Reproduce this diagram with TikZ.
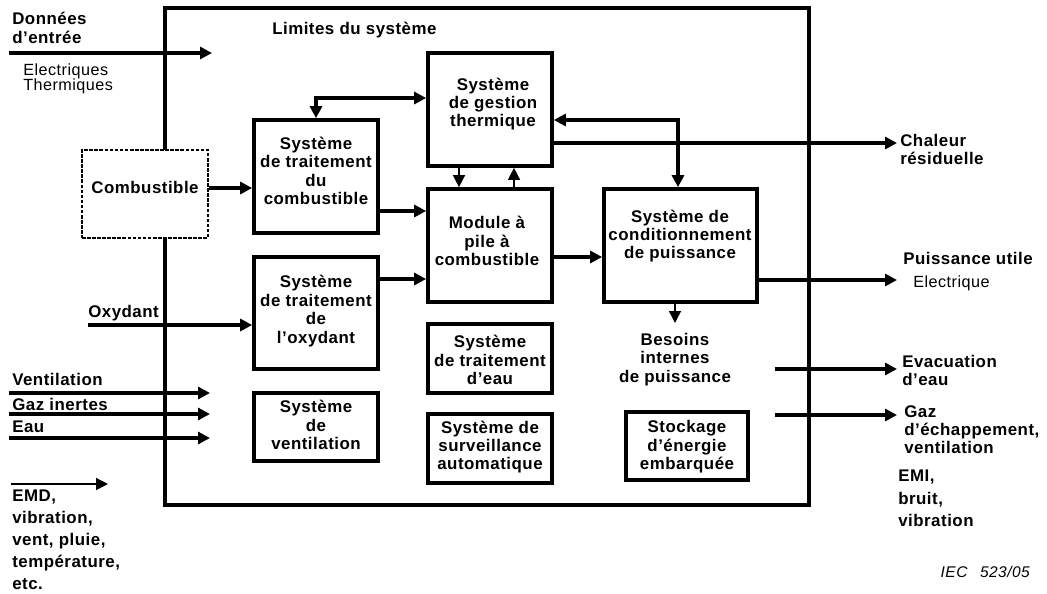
\documentclass[tikz,border=0pt]{standalone}
\usepackage{fontspec}
\setmainfont{Liberation Sans}[LetterSpace=3]
\usetikzlibrary{arrows.meta}

\tikzset{
	box/.style={draw, line width=2.6pt, fill=white, minimum width=3.1cm, inner sep=0pt},
	bigbox/.style={box, minimum height=2.825cm},
	smallbox/.style={box, minimum height=1.725cm},
	txt/.style={font=\bfseries\fontsize{12}{13.1}\selectfont, align=center, inner sep=0pt},
	lbl/.style={font=\bfseries\fontsize{12}{13.1}\selectfont, align=left, inner sep=0pt, anchor=north west},
	widelbl/.style={lbl, font=\bfseries\fontsize{12}{15.6}\selectfont},
	fine/.style={font=\fontsize{11.5}{10.8}\selectfont, align=left, inner sep=0pt, anchor=north west},
	arr/.style={line width=2.2pt, -{Triangle[length=8.5pt,width=8.5pt]}},
	dblarr/.style={line width=2.2pt, {Triangle[length=8.5pt,width=8.5pt]}-{Triangle[length=8.5pt,width=8.5pt]}},
	thinarr/.style={line width=1pt, -{Triangle[length=8.5pt,width=8.5pt]}},
}

\begin{document}
\begin{tikzpicture}[x=0.025cm, y=-0.025cm]
	\useasboundingbox (0,0) rectangle (1047,593);
	% Systemgrenze
	\draw[line width=2.6pt] (165,8) rectangle (809,505);
	\node[lbl] (limites) at (272,22) {Limites du système};

	% Kaesten
	\node[box, densely dotted, line width=1.2pt, minimum width=3.15cm, minimum height=2.2cm] (comb) at (145,194) {};
	\node[txt] (combt) at (145,187) {Combustible};
	\node[bigbox] (tcomb) at (316,176.5) {};
	\node[txt] (tcombt) at (316,171) {Système\\de traitement\\du\\combustible};
	\node[bigbox] (gest) at (490,109.5) {};
	\node[txt] (gestt) at (493,104) {Système\\de gestion\\thermique};
	\node[bigbox] (module) at (490,245.5) {};
	\node[txt] (modulet) at (487,241) {Module à\\pile à\\combustible};
	\node[bigbox, minimum width=3.825cm] (cond) at (680.5,245.5) {};
	\node[txt] (condt) at (680,236) {Système de\\conditionnement\\de puissance};
	\node[bigbox, minimum height=2.8cm] (toxy) at (316,313) {};
	\node[txt] (toxyt) at (316,311) {Système\\de traitement\\de\\l’oxydant};
	\node[box, minimum height=1.7cm] (vent) at (316,427) {};
	\node[txt] (ventt) at (316,425) {Système\\de\\ventilation};
	\node[smallbox] (eau) at (490,358.5) {};
	\node[txt] (eaut) at (490,360) {Système\\de traitement\\d’eau};
	\node[smallbox] (surv) at (490,448.5) {};
	\node[txt] (survt) at (490,447) {Système de\\surveillance\\automatique};
	\node[box, minimum width=3.05cm, minimum height=1.7cm] (stock) at (687,446) {};
	\node[txt] (stockt) at (687,447) {Stockage\\d’énergie\\embarquée};
	\node[txt, anchor=north] (besoins) at (675,333) {Besoins\\internes\\de puissance};

	% Verbindungen innen
	\draw[arr] (comb.east |- 0,188) -- (tcomb.west |- 0,188);
	\draw[dblarr] (tcomb.north) |- (gest.west |- 0,98);
	\draw[arr] (tcomb.east |- 0,211) -- (module.west |- 0,211);
	\draw[arr] (toxy.east |- 0,279) -- (module.west |- 0,279);
	\draw[thinarr] (gest.south -| 459,0) -- (module.north -| 459,0);
	\draw[thinarr] (module.north -| 514,0) -- (gest.south -| 514,0);
	\draw[arr] (module.east |- 0,257) -- (cond.west |- 0,257);
	\draw[dblarr] (gest.east |- 0,120) -| (cond.north -| 678,0);
	\coordinate (bes) at (675,323);
	\draw[thinarr] (cond.south -| bes) -- (bes);

	% Eingaenge links
	\coordinate (din) at (9,53);
	\coordinate (dout) at (212,53);
	\draw[arr] (din) -- (dout);
	\node[lbl] (donnees) at (12,12) {Données\\d’entrée};
	\node[fine] (elec) at (23,63) {Electriques\\Thermiques};
	\coordinate (oxin) at (88,325);
	\draw[arr] (oxin) -- (toxy.west |- oxin);
	\node[lbl] (oxy) at (88,305) {Oxydant};
	\foreach \y/\t/\name/\txt in {393/373/vl/Ventilation, 414/398/gl/Gaz inertes, 438/421/el/Eau} {
		\coordinate (\name a) at (9,\y);
		\coordinate (\name b) at (210,\y);
		\draw[arr] (\name a) -- (\name b);
		\node[lbl] (\name) at (12,\t) {\txt};
	}
	\coordinate (emda) at (11,484);
	\coordinate (emdb) at (108,484);
	\draw[thinarr] (emda) -- (emdb);
	\node[widelbl] (emd) at (12,490) {EMD,\\vibration,\\vent, pluie,\\température,\\etc.};

	% Ausgaenge rechts
	\coordinate (chal) at (897,143);
	\draw[arr] (gest.east |- chal) -- (chal);
	\node[lbl] (chaleur) at (900,134) {Chaleur\\résiduelle};
	\coordinate (puis) at (897,280);
	\draw[arr] (cond.east |- puis) -- (puis);
	\node[lbl] (puissance) at (903,252) {Puissance utile};
	\node[fine] (elec2) at (913,275) {Electrique};
	\coordinate (eva) at (775,369);
	\coordinate (evb) at (897,369);
	\draw[arr] (eva) -- (evb);
	\node[lbl] (evac) at (902,355) {Evacuation\\d’eau};
	\coordinate (gaza) at (775,415);
	\coordinate (gazb) at (897,415);
	\draw[arr] (gaza) -- (gazb);
	\node[lbl] (gaz) at (904,405) {Gaz\\d’échappement,\\ventilation};
	\node[widelbl, font=\bfseries\fontsize{12}{16}\selectfont] (emi) at (898,470) {EMI,\\bruit,\\vibration};
	\node[font=\itshape\fontsize{11}{13}\selectfont, inner sep=0pt, anchor=east] (iec) at (1030,572) {IEC\hspace{9pt}523/05};
\end{tikzpicture}
\end{document}
